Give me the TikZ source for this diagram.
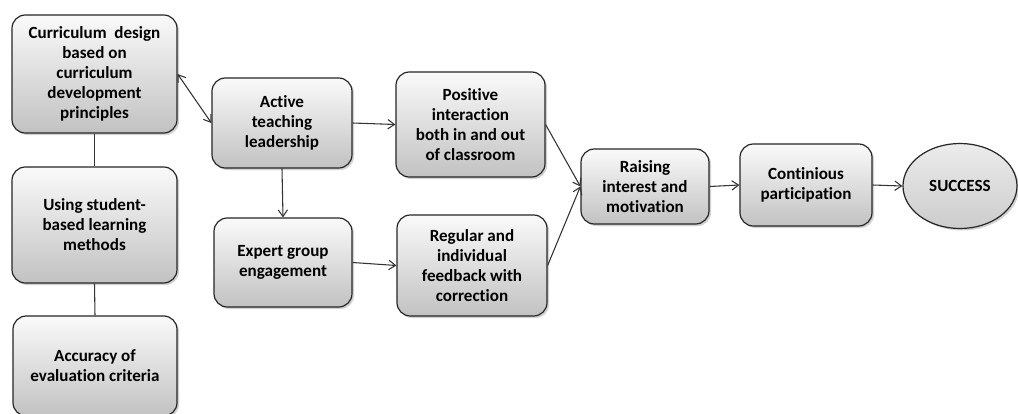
\documentclass[tikz,border=0pt]{standalone}
\usepackage{fontspec}
\setmainfont[Ligatures=NoCommon]{Carlito}
\usetikzlibrary{arrows.meta,shapes.geometric,shadows}
\begin{document}
\begin{tikzpicture}[x=0.75pt,y=-0.75pt,
  box/.style={draw=black!85,line width=0.9pt,rounded corners=10pt,
    top color=gray!4,bottom color=gray!48,
    drop shadow={shadow xshift=1.5pt,shadow yshift=-1.5pt,opacity=0.35},
    align=center,font=\bfseries\fontsize{12.8}{15}\selectfont,text=black,
    inner sep=1pt},
  oval/.style={ellipse,draw=black!85,line width=0.9pt,
    top color=gray!15,bottom color=gray!40,
    drop shadow={shadow xshift=1.5pt,shadow yshift=-1.5pt,opacity=0.35},
    font=\bfseries\fontsize{12.8}{15}\selectfont,text=black,inner sep=0pt},
  conn/.style={draw=black!80,line width=0.8pt},
  arr/.style={conn,-{Straight Barb[length=5pt,width=7pt]}},
  darr/.style={conn,{Straight Barb[length=5pt,width=7pt]}-{Straight Barb[length=5pt,width=7pt]}}]
\useasboundingbox (0,0) rectangle (1018,414);
\clip (0,0) rectangle (1018,414);
\fill[white] (0,0) rectangle (1018,414);
\node[box,minimum width=165*0.75pt,minimum height=118*0.75pt] (A) at (94.5,74)
  {Curriculum\ \ design\\based on\\curriculum\\development\\principles};
\node[box,minimum width=165*0.75pt,minimum height=116*0.75pt] (B) at (94.5,225)
  {Using student-\\based learning\\methods};
\node[box,minimum width=164*0.75pt,minimum height=100*0.75pt] (C) at (95,366)
  {Accuracy of\\evaluation criteria};
\node[box,minimum width=140*0.75pt,minimum height=90*0.75pt] (D) at (282,123)
  {Active\\teaching\\leadership};
\node[box,minimum width=138*0.75pt,minimum height=89*0.75pt] (E) at (283,262.5)
  {Expert group\\engagement};
\node[box,minimum width=149*0.75pt,minimum height=105*0.75pt] (F) at (470.5,124.5)
  {Positive\\interaction\\both in and out\\of classroom};
\node[box,minimum width=150*0.75pt,minimum height=101*0.75pt] (G) at (472,265.5)
  {Regular and\\individual\\feedback with\\correction};
\node[box,minimum width=128*0.75pt,minimum height=75*0.75pt] (H) at (645,186.5)
  {Raising\\interest and\\motivation};
\node[box,minimum width=132*0.75pt,minimum height=82*0.75pt] (I) at (806,185)
  {Continious\\participation};
\node[oval,minimum width=114*0.75pt,minimum height=85*0.75pt] (J) at (960,186)
  {SUCCESS};
\draw[conn] (A.south) -- (B.north);
\draw[conn] (B.south) -- (C.north);
\draw[darr] (A.east) -- (D.west);
\draw[arr] (D.south) -- (E.north);
\draw[arr] (D.east) -- (F.west);
\draw[arr] (E.east) -- (G.west);
\draw[arr] (F.east) -- (H.west);
\draw[arr] (G.east) -- (H.west);
\draw[arr] (H.east) -- (I.west);
\draw[arr] (I.east) -- (J.west);
\end{tikzpicture}
\end{document}
